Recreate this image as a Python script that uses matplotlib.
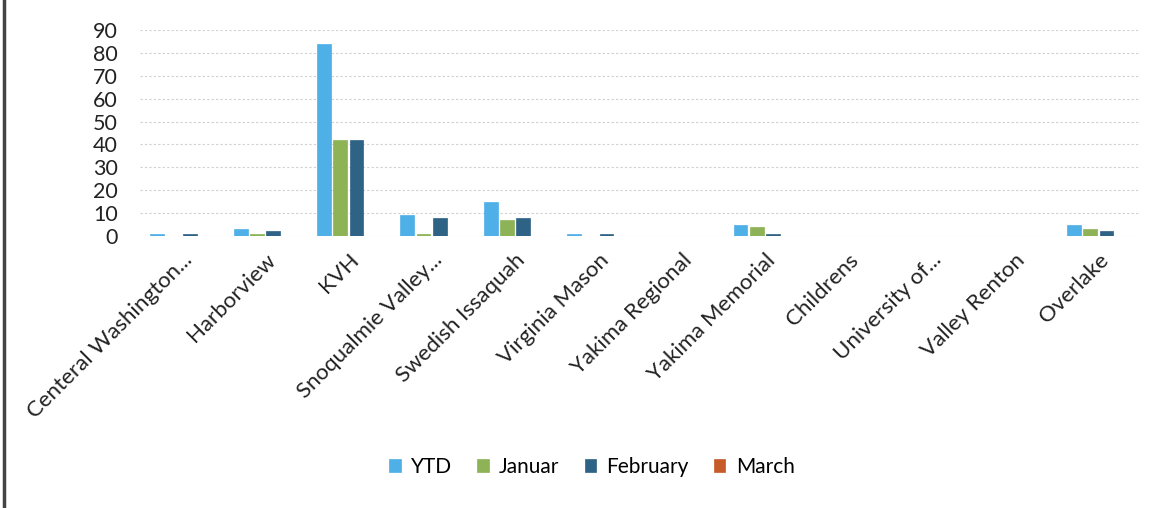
import numpy as np
import matplotlib
matplotlib.use("Agg")
import matplotlib.pyplot as plt
from matplotlib.lines import Line2D

hospitals = ["Centeral Washington...", "Harborview", "KVH", "Snoqualmie Valley...",
             "Swedish Issaquah", "Virginia Mason", "Yakima Regional", "Yakima Memorial",
             "Childrens", "University of...", "Valley Renton", "Overlake"]
ytd = [1, 3, 84, 9, 15, 1, 0, 5, 0, 0, 0, 5]
january = [0, 1, 42, 1, 7, 0, 0, 4, 0, 0, 0, 3]
february = [1, 2, 42, 8, 8, 1, 0, 1, 0, 0, 0, 2]
march = [0, 0, 0, 0, 0, 0, 0, 0, 0, 0, 0, 0]
series_names = ["YTD", "Januar", "February", "March"]
colors = ["#4fb0e8", "#8db356", "#2f6385", "#c65a28"]

plt.rcParams['font.family'] = ['Lato', 'DejaVu Sans']

fig = plt.figure(figsize=(11.59, 5.08), dpi=100)
ax = fig.add_axes([140 / 1159, 1 - 236 / 508, 1000 / 1159, 206 / 508])

x = np.arange(len(hospitals))
w = 0.165
step = 0.195
for i, (vals, c) in enumerate(zip([ytd, january, february, march], colors)):
    off = (i - 1.5) * step
    ax.bar(x + off, vals, width=w, color=c, edgecolor=c, linewidth=0.5,
           label=series_names[i], zorder=3)

ax.set_xlim(-0.5, len(hospitals) - 0.5)
ax.set_ylim(0, 90)
ax.set_yticks(np.arange(0, 91, 10))
ax.yaxis.grid(True, color="#d0d0d0", linestyle=(0, (2, 2)), linewidth=0.8, zorder=0)
for s in ax.spines.values():
    s.set_visible(False)
ax.tick_params(axis="both", length=0, colors="#222222")
ax.tick_params(axis="y", pad=16, labelsize=15.5)
ax.set_xticks(x)
ax.set_xticklabels(hospitals, rotation=45, ha="right", rotation_mode="anchor")
ax.tick_params(axis="x", pad=10, labelsize=16)

ax.legend(loc="center", bbox_to_anchor=(592 / 1159, 1 - 467 / 508),
          bbox_transform=fig.transFigure, ncol=4, frameon=False, fontsize=15,
          handlelength=0.55, handleheight=0.55, handletextpad=0.5, columnspacing=1.2)

fig.add_artist(Line2D([4 / 1159, 4 / 1159], [0, 1], color="#444444", linewidth=2.5,
                      transform=fig.transFigure))

fig.savefig("out.png", dpi=100)
